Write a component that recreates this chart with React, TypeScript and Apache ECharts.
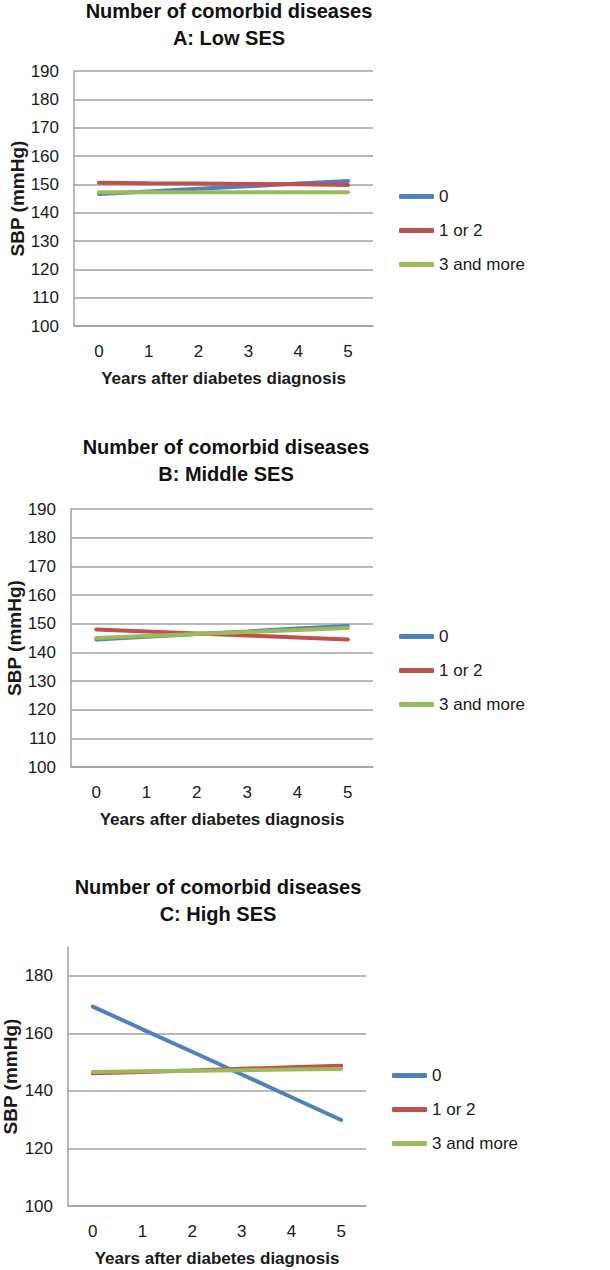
import React, { useEffect, useRef } from "react";
import * as echarts from "echarts";

const years = ["0", "1", "2", "3", "4", "5"];
const seriesNames = ["0", "1 or 2", "3 and more"];
const colors = ["#4F81BD", "#C0504D", "#9BBB59"];

// Panel A: Low SES
const lowZero = [146.6, 147.5, 148.4, 149.3, 150.3, 151.2];
const lowOneTwo = [150.6, 150.4, 150.3, 150.1, 150.0, 149.8];
const lowThree = [147.2, 147.2, 147.2, 147.2, 147.2, 147.2];

// Panel B: Middle SES
const midZero = [144.5, 145.4, 146.4, 147.3, 148.3, 149.2];
const midOneTwo = [148.0, 147.3, 146.6, 145.9, 145.2, 144.5];
const midThree = [145.0, 145.7, 146.4, 147.1, 147.8, 148.5];

// Panel C: High SES
const highZero = [169.3, 161.4, 153.6, 145.7, 137.8, 129.9];
const highOneTwo = [146.1, 146.6, 147.1, 147.7, 148.2, 148.7];
const highThree = [146.6, 146.8, 147.0, 147.2, 147.4, 147.6];

const titles = [
  "Number of comorbid diseases\nA: Low SES",
  "Number of comorbid diseases\nB: Middle SES",
  "Number of comorbid diseases\nC: High SES",
];
const yAxisName = "SBP (mmHg)";
const xAxisName = "Years after diabetes diagnosis";

export default function App() {
  const ref = useRef<HTMLDivElement>(null);
  useEffect(() => {
    if (!ref.current) return;
    const chart = echarts.init(ref.current, undefined, { renderer: "svg" });
    const font = "'Liberation Sans', Arial, sans-serif";
    const gray = "#a0a0a0";
    const panels = [
      { data: [lowZero, lowOneTwo, lowThree], grid: { left: 74, top: 71, width: 299, height: 255 }, yInt: 10, hideMax: false, title: { x: 229, y: 24 }, legendTop: 188, legendLeft: 399, yGap: 47 },
      { data: [midZero, midOneTwo, midThree], grid: { left: 71, top: 509, width: 302, height: 258 }, yInt: 10, hideMax: false, title: { x: 226, y: 460 }, legendTop: 628, legendLeft: 399, yGap: 46 },
      { data: [highZero, highOneTwo, highThree], grid: { left: 65, top: 947, width: 301, height: 259 }, yInt: 20, hideMax: true, title: { x: 218, y: 900 }, legendTop: 1067, legendLeft: 392, yGap: 48 },
    ];
    const option: any = {
      animation: false,
      textStyle: { fontFamily: font },
      grid: panels.map((p) => ({ ...p.grid, containLabel: false })),
      xAxis: panels.map((p, i) => ({
        type: "category",
        gridIndex: i,
        data: years,
        boundaryGap: true,
        axisLine: { show: true, lineStyle: { color: gray, width: 1.5 } },
        axisTick: { show: false },
        axisLabel: { color: "#1a1a1a", fontSize: 17, margin: 17, fontFamily: font },
        splitLine: { show: false },
        name: xAxisName,
        nameLocation: "middle",
        nameGap: 44,
        nameTextStyle: { fontWeight: "bold", fontSize: 17, color: "#1a1a1a", fontFamily: font },
      })),
      yAxis: panels.map((p, i) => ({
        type: "value",
        gridIndex: i,
        min: 100,
        max: 190,
        interval: p.yInt,
        axisLine: { show: true, lineStyle: { color: gray, width: 1.5 } },
        axisTick: { show: false },
        axisLabel: { color: "#1a1a1a", fontSize: 17, margin: 15, fontFamily: font, showMaxLabel: !p.hideMax },
        splitLine: { show: true, showMaxLine: !p.hideMax, lineStyle: { color: gray, width: 1.5 } },
        name: yAxisName,
        nameLocation: "middle",
        nameGap: p.yGap,
        nameTextStyle: { fontWeight: "bold", fontSize: 19, color: "#1a1a1a", fontFamily: font },
      })),
      legend: panels.map((p) => ({
        orient: "vertical",
        left: p.legendLeft,
        top: p.legendTop,
        itemWidth: 35,
        itemHeight: 5,
        itemGap: 17,
        icon: "roundRect",
        padding: 0,
        textStyle: { fontSize: 17, color: "#1a1a1a", fontFamily: font, lineHeight: 17 },
        data: seriesNames,
      })),
      series: panels.flatMap((p, i) =>
        p.data.map((d, k) => ({
          type: "line",
          name: seriesNames[k],
          xAxisIndex: i,
          yAxisIndex: i,
          data: d,
          symbol: "none",
          color: colors[k],
          lineStyle: { width: 4, color: colors[k], cap: "round" },
        }))
      ),
      graphic: panels.map((p, i) => ({
        type: "text",
        x: p.title.x,
        y: p.title.y,
        style: {
          text: titles[i],
          font: `bold 20px ${font}`,
          fill: "#111",
          textAlign: "center",
          textVerticalAlign: "middle",
          lineHeight: 27,
        },
      })),
    };
    chart.setOption(option);
    return () => chart.dispose();
  }, []);
  return (
    <div
      ref={ref}
      style={{ position: "absolute", left: 0, top: 0, width: 610, height: 1270, background: "#fff" }}
    />
  );
}
